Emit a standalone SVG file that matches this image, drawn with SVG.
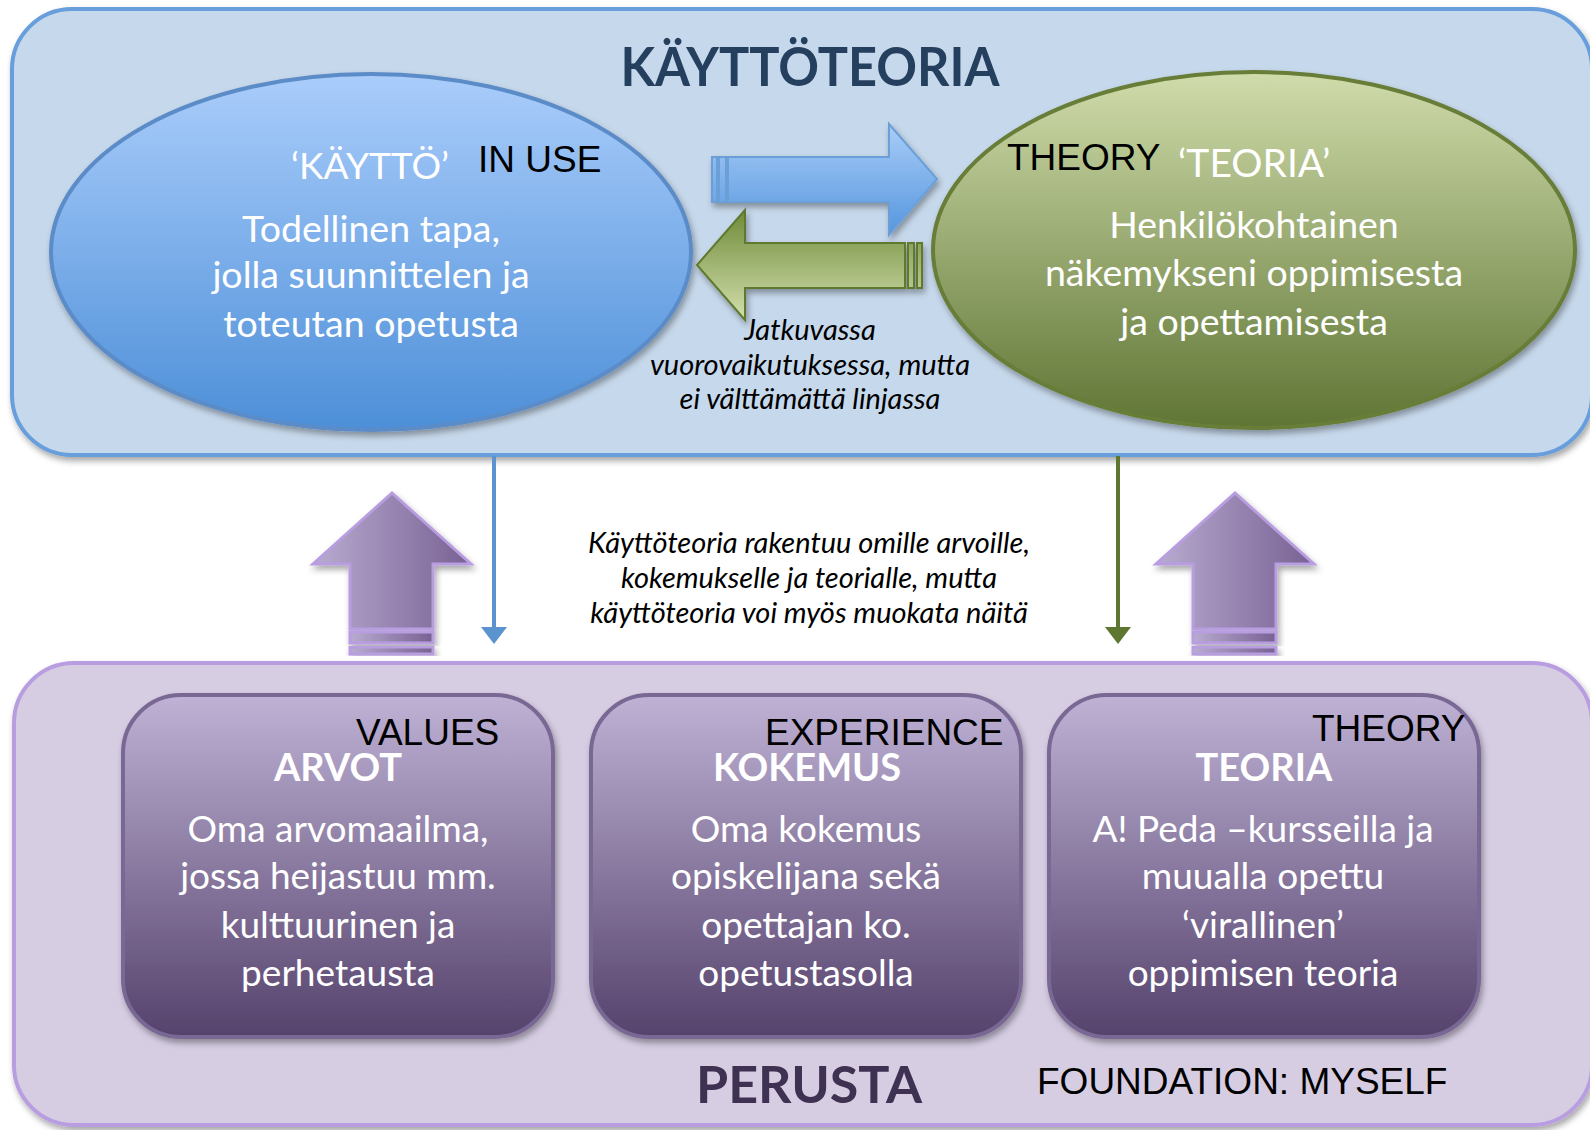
<svg xmlns="http://www.w3.org/2000/svg" width="1590" height="1130" viewBox="0 0 1590 1130">
<defs>
<style>
.lato{font-family:Lato,"Open Sans","DejaVu Sans",sans-serif}
.wt{font-family:Lato,"Open Sans",sans-serif;fill:#fff;font-size:37.5px;text-anchor:middle}
.bt{font-family:Lato,"Open Sans",sans-serif;fill:#fff;font-size:37px;text-anchor:middle}
.hd{font-family:Lato,"Open Sans",sans-serif;fill:#fff;font-size:38px;font-weight:bold;text-anchor:middle}
.it{font-family:Lato,"Open Sans",sans-serif;font-style:italic;font-size:29px;fill:#000;text-anchor:middle}
.en{font-family:"Liberation Sans",Arial,sans-serif;fill:#000;font-size:37px}
.inner{fill:url(#boxG);stroke:#7a6794;stroke-width:4;filter:url(#sh)}
.purp{fill:url(#purG);stroke:#b89ee0;stroke-width:3;filter:url(#sh)}
</style>
<filter id="sh" x="-10%" y="-10%" width="120%" height="130%">
<feDropShadow dx="2" dy="4" stdDeviation="3" flood-color="#000" flood-opacity="0.35"/>
</filter>
<linearGradient id="blueEll" x1="0" y1="0" x2="0" y2="1">
<stop offset="0" stop-color="#aacdfb"/><stop offset="1" stop-color="#4d8fd8"/>
</linearGradient>
<linearGradient id="greenEll" x1="0" y1="0" x2="0" y2="1">
<stop offset="0" stop-color="#d0dcab"/><stop offset="1" stop-color="#5f7535"/>
</linearGradient>
<linearGradient id="blueArr" gradientUnits="userSpaceOnUse" x1="0" y1="124" x2="0" y2="235">
<stop offset="0" stop-color="#a9cdf8"/><stop offset="1" stop-color="#5596de"/>
</linearGradient>
<linearGradient id="greenArr" gradientUnits="userSpaceOnUse" x1="0" y1="210" x2="0" y2="320">
<stop offset="0" stop-color="#6f8b38"/><stop offset="1" stop-color="#d3dfae"/>
</linearGradient>
<linearGradient id="boxG" x1="0" y1="0" x2="0" y2="1">
<stop offset="0" stop-color="#bfb2d5"/><stop offset="1" stop-color="#55426c"/>
</linearGradient>
<linearGradient id="purG" x1="0" y1="0" x2="1" y2="0">
<stop offset="0" stop-color="#b8abd0"/><stop offset="1" stop-color="#786193"/>
</linearGradient>
</defs>

<rect width="1590" height="1130" fill="#fff"/>

<g id="kayttoteoria-box">
<rect x="12" y="9" width="1580" height="446" rx="60" fill="#c6d8eb" stroke="#679edb" stroke-width="4" filter="url(#sh)"/>
<text x="810" y="86" class="lato" font-size="53" font-weight="bold" fill="#25405f" text-anchor="middle" textLength="379" lengthAdjust="spacingAndGlyphs">KÄYTTÖTEORIA</text>
</g>

<g id="perusta-box">
<rect x="14" y="663" width="1578" height="462" rx="60" fill="#d6cde3" stroke="#b89ee0" stroke-width="4" filter="url(#sh)"/>
<text x="809" y="1103" class="lato" font-size="52" font-weight="bold" fill="#3f3151" text-anchor="middle">PERUSTA</text>
<text x="1037" y="1094" class="en" font-size="37.8">FOUNDATION: MYSELF</text>
</g>

<g id="kaytto">
<ellipse cx="371" cy="252" rx="320" ry="178" fill="url(#blueEll)" stroke="#5b8cc8" stroke-width="4" filter="url(#sh)"/>
<text x="291" y="179" class="lato" font-size="37" fill="#fff">‘KÄYTTÖ’</text>
<text x="478" y="172" class="en" font-size="35.5">IN USE</text>
<text x="371" y="242" class="wt">Todellinen tapa,</text>
<text x="371" y="288" class="wt">jolla suunnittelen ja</text>
<text x="371" y="337" class="wt">toteutan opetusta</text>
</g>

<g id="teoria">
<ellipse cx="1254" cy="250" rx="321" ry="178" fill="url(#greenEll)" stroke="#677d38" stroke-width="4" filter="url(#sh)"/>
<text x="1007" y="170" class="en" font-size="37.5">THEORY</text>
<text x="1178" y="177" class="lato" font-size="39" fill="#fff">‘TEORIA’</text>
<text x="1254" y="238" class="wt">Henkilökohtainen</text>
<text x="1254" y="286" class="wt">näkemykseni oppimisesta</text>
<text x="1254" y="335" class="wt">ja opettamisesta</text>
</g>

<g id="arvot">
<rect x="123" y="695" width="430" height="342" rx="58" class="inner"/>
<text x="356" y="745" class="en">VALUES</text>
<text x="338" y="781" class="hd">ARVOT</text>
<text x="338" y="842" class="bt">Oma arvomaailma,</text>
<text x="338" y="889" class="bt">jossa heijastuu mm.</text>
<text x="338" y="938" class="bt">kulttuurinen ja</text>
<text x="338" y="986" class="bt">perhetausta</text>
</g>

<g id="kokemus">
<rect x="591" y="695" width="430" height="342" rx="58" class="inner"/>
<text x="765" y="745" class="en">EXPERIENCE</text>
<text x="807" y="781" class="hd">KOKEMUS</text>
<text x="806" y="842" class="bt">Oma kokemus</text>
<text x="806" y="889" class="bt">opiskelijana sekä</text>
<text x="806" y="938" class="bt">opettajan ko.</text>
<text x="806" y="986" class="bt">opetustasolla</text>
</g>

<g id="teoria-perusta">
<rect x="1049" y="695" width="430" height="342" rx="58" class="inner"/>
<text x="1312" y="741" class="en">THEORY</text>
<text x="1264" y="781" class="hd">TEORIA</text>
<text x="1263" y="842" class="bt">A! Peda –kursseilla ja</text>
<text x="1263" y="889" class="bt">muualla opettu</text>
<text x="1263" y="938" class="bt">‘virallinen’</text>
<text x="1263" y="986" class="bt">oppimisen teoria</text>
</g>

<g id="connectors">
<g id="arrow-right-blue" filter="url(#sh)" fill="url(#blueArr)" stroke="#6a9fd8" stroke-width="2">
<rect x="712" y="157" width="5" height="45"/>
<rect x="719" y="157" width="7" height="45"/>
<path d="M728,157 H889 V124 L937,179 L889,235 V202 H728 Z"/>
</g>
<g id="arrow-left-green" filter="url(#sh)" fill="url(#greenArr)" stroke="#5f7a2f" stroke-width="2">
<path d="M905,243 H745 V210 L697,265 L745,320 V288 H905 Z"/>
<rect x="908" y="243" width="6" height="45"/>
<rect x="917" y="243" width="5" height="45"/>
</g>
<text x="810" y="340" class="it">Jatkuvassa</text>
<text x="810" y="375" class="it">vuorovaikutuksessa, mutta</text>
<text x="810" y="409" class="it">ei välttämättä linjassa</text>

<g id="line-blue">
<line x1="494" y1="456" x2="494" y2="630" stroke="#5b93cf" stroke-width="4"/>
<polygon points="481,627 507,627 494,644" fill="#5b93cf"/>
</g>
<g id="line-green">
<line x1="1118" y1="456" x2="1118" y2="630" stroke="#5e7630" stroke-width="4"/>
<polygon points="1105,627 1131,627 1118,644" fill="#5e7630"/>
</g>

<g id="arrow-up-left">
<path class="purp" d="M350,629 V564 H313 L392,493 L471,564 H433 V629 Z"/>
<rect class="purp" x="350" y="632" width="83" height="11"/>
<rect class="purp" x="350" y="647" width="83" height="7"/>
</g>
<g id="arrow-up-right">
<path class="purp" d="M1193,629 V564 H1156 L1235,493 L1314,564 H1276 V629 Z"/>
<rect class="purp" x="1193" y="632" width="83" height="11"/>
<rect class="purp" x="1193" y="647" width="83" height="7"/>
</g>
<text x="809" y="553" class="it">Käyttöteoria rakentuu omille arvoille,</text>
<text x="809" y="588" class="it">kokemukselle ja teorialle, mutta</text>
<text x="809" y="623" class="it">käyttöteoria voi myös muokata näitä</text>
</g>
</svg>
